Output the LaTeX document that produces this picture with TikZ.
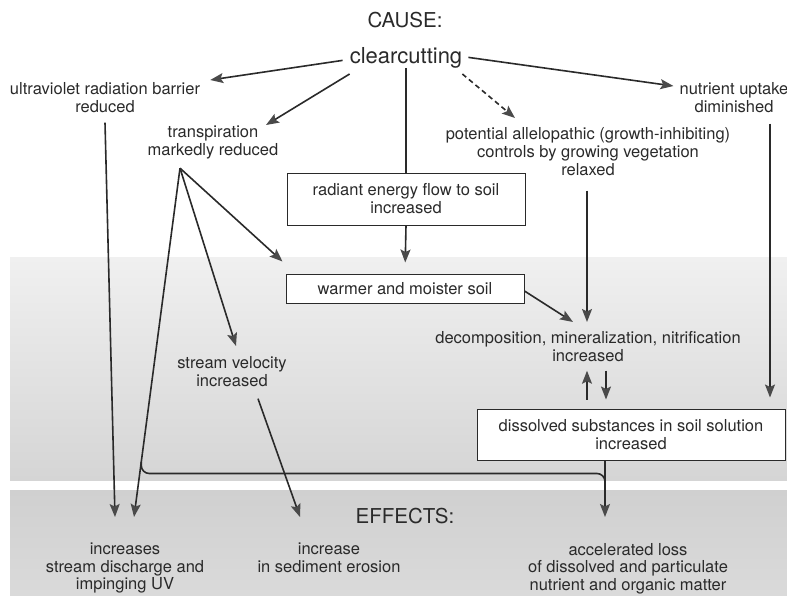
\documentclass[tikz,border=0pt]{standalone}
\usepackage{fontspec}
\setmainfont{TeX Gyre Heros}
\usetikzlibrary{arrows.meta,calc}
\definecolor{ink}{HTML}{2A2A2A}
\definecolor{tipgray}{HTML}{4A4A4A}
\definecolor{shadeA}{HTML}{F0F0F0}
\definecolor{shadeB}{HTML}{D5D5D5}
\definecolor{shadeC}{HTML}{D0D0D0}
\definecolor{shadeD}{HTML}{DADADA}
\begin{document}
\begin{tikzpicture}[x=1pt,y=-1pt,
  lbl/.style={inner sep=0pt, align=center, text=ink, font=\fontsize{16.5}{18}\selectfont},
  efflbl/.style={lbl, font=\fontsize{16.5}{17.5}\selectfont},
  head/.style={inner sep=0pt, text=ink, font=\fontsize{20.5}{24}\selectfont},
  boxed/.style={lbl, draw=ink, line width=1pt, fill=white},
  link/.style={draw=ink, line width=1.6pt, -{Stealth[length=13pt,width=10pt,inset=2.5pt,color=tipgray]}},
  plain/.style={draw=ink, line width=1.6pt},
  hint/.style={link, dash pattern=on 5pt off 3.5pt},
]
\useasboundingbox (0,0) rectangle (787,595);
% backdrop bands
\shade[top color=shadeA, bottom color=shadeB] (10,257) rectangle (787,480);
\shade[top color=shadeC, bottom color=shadeD] (10,490) rectangle (787,595);

% cause
\node[head, anchor=base] (cause) at (405,27) {CAUSE:};
\node[inner sep=0pt, text=ink, font=\fontsize{22}{26}\selectfont, anchor=base] (cc) at (406,63) {clearcutting};

% first-order consequences
\node[lbl, anchor=north] (uv) at (105,82) {ultraviolet radiation barrier\\reduced};
\node[lbl, anchor=north] (tr) at (213,126) {transpiration\\markedly reduced};
\node[lbl, anchor=north] (al) at (588,127) {potential allelopathic (growth-inhibiting)\\controls by growing vegetation\\relaxed};
\node[lbl, anchor=north] (nu) at (734,82) {nutrient uptake\\diminished};

% soil chain
\node[boxed, minimum width=238pt, minimum height=52pt] (rb) at (406,199) {radiant energy flow to soil\\increased};
\node[boxed, minimum width=238pt, minimum height=29pt] (wb) at (405,288.5) {warmer and moister soil};
\node[lbl, anchor=north] (dc) at (588,331) {decomposition, mineralization, nitrification\\increased};
\node[boxed, minimum width=308pt, minimum height=51pt] (ds) at (631,434.5) {dissolved substances in soil solution\\increased};
\node[lbl, anchor=north] (sv) at (232,356) {stream velocity\\increased};

% effects
\node[head, anchor=base] (eff) at (405,523) {EFFECTS:};
\node[efflbl, anchor=north] (e1) at (125,543) {increases\\stream discharge and\\impinging UV};
\node[efflbl, anchor=north] (e2) at (329,543) {increase\\in sediment erosion};
\node[efflbl, anchor=north] (e3) at (628,543) {accelerated loss\\of dissolved and particulate\\nutrient and organic matter};

% helper points
\coordinate (trfoot) at ($(tr.south)+(-33,8.5)$);
\coordinate (e1tip) at ($(e1.north)+(9,-26)$);
\coordinate (jn) at ($(trfoot)!0.842!(e1tip)$);
\coordinate (nudrop) at ($(nu.south)+(36,11)$);

% connectors from clearcutting
\draw[link] ($(cc.west)+(-7,3)$) -- ($(uv.north east)+(10,-2)$);
\draw[link] ($(cc.south west)+(0,6)$) -- ($(tr.north)+(53,-1)$);
\draw[plain] (cc.south) -- (cc.south |- rb.north);
\draw[hint] ($(cc.south east)+(0,6)$) -- ($(al.north)+(-73,-9)$);
\draw[link] ($(cc.east)+(6,0)$) -- ($(nu.north west)+(-6,4)$);

% left branch
\draw[link] ($(uv.south)+(0,10)$) -- ($(e1.north)+(-10,-26)$);
\draw[link] (trfoot) -- (e1tip);
\draw[link] (trfoot) -- ($(sv.north)+(4,-10)$);
\draw[link] (trfoot) -- ($(wb.north west)+(-3,-12)$);
\draw[link] ($(sv.south)+(26,12)$) -- ($(e2.north)+(-29,-26)$);

% soil chain
\draw[link, shorten >=11pt] (rb.south) -- (wb.north);
\draw[link] ($(wb.east)+(0,2.5)$) -- ($(dc.north)+(-15,-9)$);
\draw[link] ($(al.south)+(-1,15)$) -- ($(dc.north)+(-1,-9)$);
\draw[link] (nudrop) -- ($(nudrop |- ds.north)+(0,-11)$);
\draw[link] ($(ds.north)+(-44,-9)$) -- ($(dc.south)+(-1,9)$);
\draw[link] ($(dc.south)+(18,9)$) -- ($(ds.north)+(-25,-9)$);
\draw[link] ($(ds.south)+(-26,0)$) -- ($(e3.north)+(-23,-26)$);

% runoff branch joining the loss path
\draw[plain, rounded corners=8pt] (jn) |- ($(ds.south)+(-26,13)$) -- ($(ds.south)+(-26,28)$);
\end{tikzpicture}
\end{document}
